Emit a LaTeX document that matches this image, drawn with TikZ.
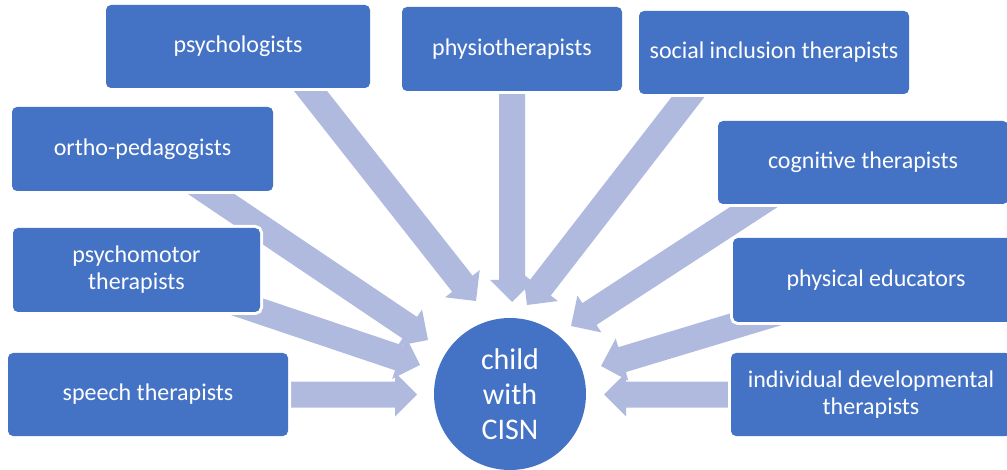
\documentclass[tikz,border=0pt]{standalone}
\usepackage{fontspec}
\setmainfont{Carlito}
\usetikzlibrary{calc}
\definecolor{boxblue}{RGB}{68,114,196}
\definecolor{arrowblue}{RGB}{176,186,222}
\tikzset{
  role/.style={fill=boxblue, rounded corners=5pt, text=white, align=center,
    inner sep=0pt, font=\fontsize{24}{27}\selectfont,
    preaction={draw=white, line width=6pt}},
  hub/.style={circle, fill=boxblue, text=white, align=center, inner sep=0pt,
    minimum size=152pt, font=\fontsize{30}{35}\selectfont,
    preaction={draw=white, line width=6pt}},
  flow/.style={fill=arrowblue}
}
% block arrow from a tail coordinate to a tip coordinate
\newcommand\flowarrow[2]{%
  \coordinate (fa-c) at ($(#2)!22pt!(#1)$);
  \fill[flow] ($(#1)!13pt!90:(#2)$) -- ($(fa-c)!13pt!-90:(#1)$)
    -- ($(fa-c)!22pt!-90:(#1)$) -- (#2) -- ($(fa-c)!22pt!90:(#1)$)
    -- ($(fa-c)!13pt!90:(#1)$) -- ($(#1)!13pt!-90:(#2)$) -- cycle;}
\begin{document}
\begin{tikzpicture}[x=1pt,y=-1pt]
\useasboundingbox (0,0) rectangle (1007,470);

% tails (under the boxes) and tips (around the child)
\coordinate (psy-t) at (294,70);    \coordinate (psy-h) at (476,301);
\coordinate (phy-t) at (512,70);    \coordinate (phy-h) at (512,302);
\coordinate (soc-t) at (705,75);    \coordinate (soc-h) at (527,305);
\coordinate (cog-t) at (780,190);   \coordinate (cog-h) at (571,326);
\coordinate (ort-t) at (183,175);   \coordinate (ort-h) at (428,340);
\coordinate (pm-t)  at (215,296);   \coordinate (pm-h)  at (420,365);
\coordinate (pe-t)  at (790,309);   \coordinate (pe-h)  at (601,366);
\coordinate (sp-t)  at (270,394.5); \coordinate (sp-h)  at (417,394.5);
\coordinate (ind-t) at (750,394.5); \coordinate (ind-h) at (604,394.5);

\flowarrow{psy-t}{psy-h}
\flowarrow{phy-t}{phy-h}
\flowarrow{soc-t}{soc-h}
\flowarrow{cog-t}{cog-h}
\flowarrow{ort-t}{ort-h}
\flowarrow{pm-t}{pm-h}
\flowarrow{pe-t}{pe-h}
\flowarrow{sp-t}{sp-h}
\flowarrow{ind-t}{ind-h}

% professionals
\node[role, minimum width=264pt, minimum height=83pt] (psy) at (238,46.5) {psychologists};
\node[role, minimum width=220pt, minimum height=84pt] (phy) at (512,49) {physiotherapists};
\node[role, minimum width=270pt, minimum height=83pt] (soc) at (774,52.5) {social inclusion therapists};
\node[role, minimum width=290pt, minimum height=83pt] (cog) at (863,162.5) {cognitive therapists};
\node[role, minimum width=261pt, minimum height=84pt] (ort) at (142.5,149) {ortho-pedagogists};
\node[role, minimum width=247pt, minimum height=84pt] (pm) at (136.5,270) {psychomotor\\therapists};
\node[role, minimum width=280pt, minimum height=83pt] (sp) at (148,394.5) {speech therapists};
\node[role, minimum width=286pt, minimum height=84pt] (pe) at (876,280) {physical educators};
\node[role, minimum width=280pt, minimum height=83pt] (ind) at (871,394.5) {individual developmental\\therapists};

% the child
\node[hub] (child) at (510,394) {child\\with\\CISN};
\end{tikzpicture}
\end{document}
